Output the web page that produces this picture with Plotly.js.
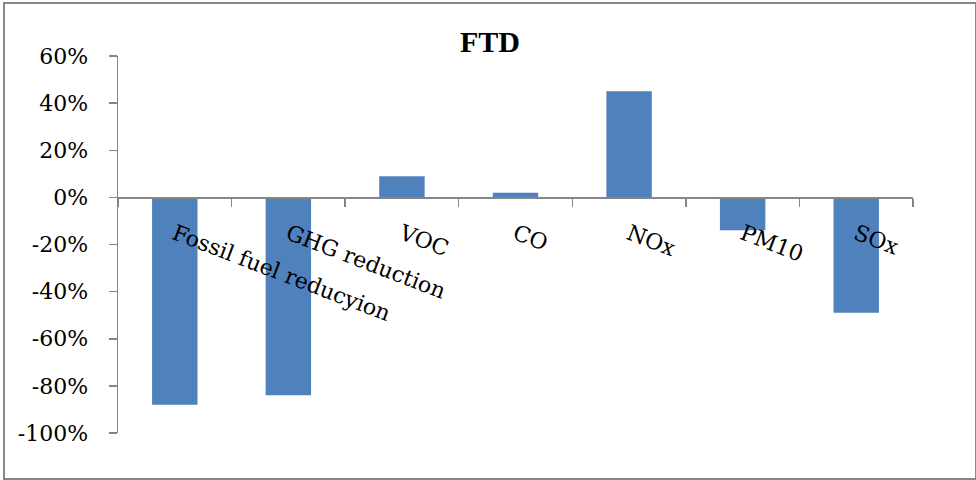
<!DOCTYPE html>
<html>
<head>
<meta charset="utf-8">
<script src="https://cdn.plot.ly/plotly-3.0.1.min.js"></script>
<style>
  html, body { margin: 0; padding: 0; background: #fff; }
  #wrap { position: relative; width: 976px; height: 480px; }
  #chart { position: absolute; left: 0; top: 0; width: 976px; height: 480px; }
  #frame { position: absolute; left: 3px; top: 2px; width: 970px; height: 474px;
           border: 2px solid #878787; pointer-events: none; }
</style>
</head>
<body>
<div id="wrap">
  <div id="chart"></div>
  <div id="frame"></div>
</div>
<script>
// Change in each measure, as a fraction
const categories = ["Fossil fuel reducyion", "GHG reduction", "VOC", "CO", "NOx", "PM10", "SOx"];
const changes = [-0.88, -0.84, 0.09, 0.02, 0.45, -0.14, -0.49];
const yRange = [-1.0, 0.6];
const yTicks = [-1.0, -0.8, -0.6, -0.4, -0.2, 0, 0.2, 0.4, 0.6];
const yTickText = ["-100%", "-80%", "-60%", "-40%", "-20%", "0%", "20%", "40%", "60%"];

const axisGrey = "#868686";
const serif = "DejaVu Serif, serif";

// place the category axis on the zero line
const zeroPos = (0 - yRange[0]) / (yRange[1] - yRange[0]);

const trace = {
  type: "bar",
  x: categories,
  y: changes,
  marker: { color: "#4F81BD" },
  hoverinfo: "x+y"
};

const layout = {
  width: 976,
  height: 480,
  margin: { l: 118, r: 63, t: 56, b: 47 },
  paper_bgcolor: "#ffffff",
  plot_bgcolor: "#ffffff",
  showlegend: false,
  bargap: 0.6,
  title: {
    text: "<b>FTD</b>",
    font: { family: "Liberation Serif, serif", size: 30, color: "#000" },
    x: 0.502, xref: "container", xanchor: "center",
    y: 1 - 41 / 480, yref: "container", yanchor: "middle"
  },
  xaxis: {
    type: "category",
    anchor: "free",
    position: zeroPos,
    showline: true,
    linecolor: axisGrey,
    linewidth: 1.5,
    ticks: "outside",
    tickson: "boundaries",
    ticklen: 8,
    tickwidth: 1.5,
    tickcolor: axisGrey,
    tickangle: 21,
    ticklabelstandoff: 14,
    tickfont: { family: serif, size: 22, color: "#000" },
    showgrid: false,
    zeroline: false,
    fixedrange: true
  },
  yaxis: {
    range: yRange,
    tickvals: yTicks,
    ticktext: yTickText,
    showline: true,
    linecolor: axisGrey,
    linewidth: 1.5,
    ticks: "outside",
    ticklen: 8,
    tickwidth: 1.5,
    tickcolor: axisGrey,
    ticklabelstandoff: 16,
    tickfont: { family: serif, size: 22, color: "#000" },
    showgrid: false,
    zeroline: false,
    fixedrange: true
  }
};

Plotly.newPlot("chart", [trace], layout, { displayModeBar: false, staticPlot: true });
</script>
</body>
</html>
